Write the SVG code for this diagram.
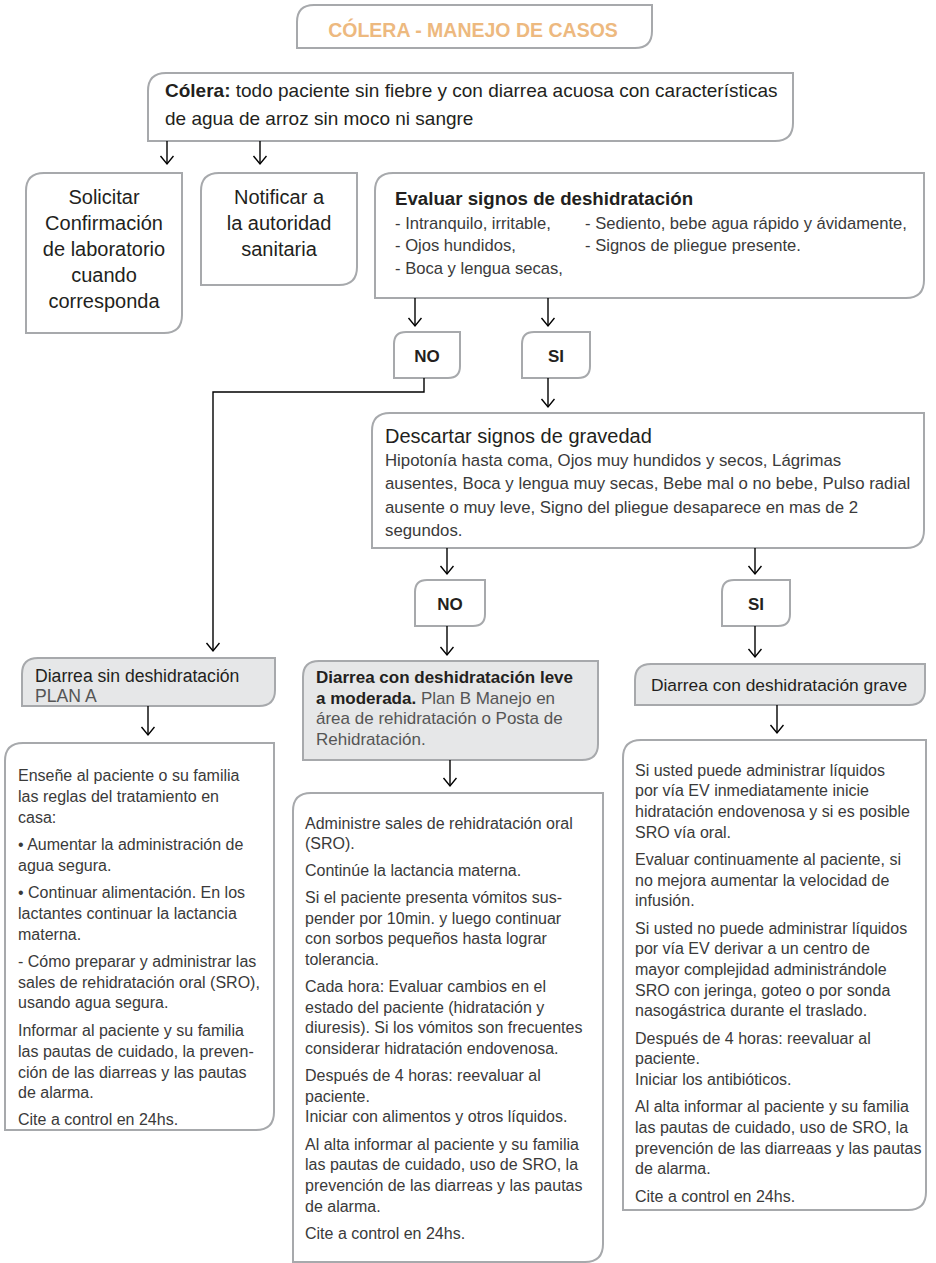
<svg xmlns="http://www.w3.org/2000/svg" width="936" height="1263" viewBox="0 0 936 1263">
<defs>
<style>
.box{fill:#fff;stroke:#a7a9ac;stroke-width:2}
.hdr{fill:#e6e7e8;stroke:#a7a9ac;stroke-width:2}
.t{font-family:"Liberation Sans",Arial,sans-serif;fill:#231f20}
.b{font-weight:bold}
.body{font-family:"Liberation Sans",Arial,sans-serif;font-size:16px;fill:#3a3a3a}
.c{text-anchor:middle}
.ln{fill:none;stroke:#000;stroke-width:1.4}
</style>
<marker id="ah" markerUnits="userSpaceOnUse" markerWidth="12" markerHeight="16" refX="9" refY="7" orient="auto" viewBox="0 0 12 16">
<path d="M1,0.5 L9,7 L1,13.5" fill="none" stroke="#000" stroke-width="1.4"/>
</marker>
</defs>
<rect width="936" height="1263" fill="#fff"/>

<g id="title">
<path class="box" d="M297,48 V22 Q297,5 314,5 H652 V31 Q652,48 635,48 Z"/>
<text class="t b c" x="473" y="37" font-size="19.5" style="fill:#edb97f">CÓLERA - MANEJO DE CASOS</text>
</g>

<g id="colera">
<path class="box" d="M148,141 V91 Q148,73 166,73 H793 V123 Q793,141 775,141 Z"/>
<text class="t" x="165" y="97" font-size="19"><tspan font-weight="bold">Cólera:</tspan> todo paciente sin fiebre y con diarrea acuosa con características</text>
<text class="t" x="165" y="125" font-size="19">de agua de arroz sin moco ni sangre</text>
</g>

<g id="solicitar">
<path class="box" d="M26,333 V191 Q26,173 44,173 H182 V315 Q182,333 164,333 Z"/>
<text class="t c" x="104" y="204" font-size="20">Solicitar</text>
<text class="t c" x="104" y="230" font-size="20">Confirmación</text>
<text class="t c" x="104" y="256" font-size="20">de laboratorio</text>
<text class="t c" x="104" y="282" font-size="20">cuando</text>
<text class="t c" x="104" y="308" font-size="20">corresponda</text>
</g>

<g id="notificar">
<path class="box" d="M201,285 V191 Q201,173 219,173 H357 V267 Q357,285 339,285 Z"/>
<text class="t c" x="279" y="204" font-size="20">Notificar a</text>
<text class="t c" x="279" y="230" font-size="20">la autoridad</text>
<text class="t c" x="279" y="256" font-size="20">sanitaria</text>
</g>

<g id="evaluar">
<path class="box" d="M375,298 V191 Q375,173 393,173 H924 V280 Q924,298 906,298 Z"/>
<text class="t b" x="395" y="205" font-size="18.7">Evaluar signos de deshidratación</text>
<text class="body" x="395" y="229" style="font-size:16.6px">- Intranquilo, irritable,</text>
<text class="body" x="395" y="251" style="font-size:16.6px">- Ojos hundidos,</text>
<text class="body" x="395" y="274" style="font-size:16.6px">- Boca y lengua secas,</text>
<text class="body" x="585" y="229" style="font-size:16.6px">- Sediento, bebe agua rápido y ávidamente,</text>
<text class="body" x="585" y="251" style="font-size:16.6px">- Signos de pliegue presente.</text>
</g>

<g id="no1">
<path class="box" d="M394,378 V344 Q394,332 406,332 H460 V366 Q460,378 448,378 Z"/>
<text class="t b c" x="427" y="362" font-size="17">NO</text>
</g>
<g id="si1">
<path class="box" d="M522,378 V344 Q522,332 534,332 H590 V366 Q590,378 578,378 Z"/>
<text class="t b c" x="556" y="362" font-size="17">SI</text>
</g>

<g id="descartar">
<path class="box" d="M372,548 V431 Q372,413 390,413 H924 V530 Q924,548 906,548 Z"/>
<text class="t" x="385" y="443" font-size="20">Descartar signos de gravedad</text>
<text class="body" x="385" y="466" style="font-size:16.8px">Hipotonía hasta coma, Ojos muy hundidos y secos, Lágrimas</text>
<text class="body" x="385" y="489" style="font-size:16.8px">ausentes, Boca y lengua muy secas, Bebe mal o no bebe, Pulso radial</text>
<text class="body" x="385" y="513" style="font-size:16.8px">ausente o muy leve, Signo del pliegue desaparece en mas de 2</text>
<text class="body" x="385" y="536" style="font-size:16.8px">segundos.</text>
</g>

<g id="no2">
<path class="box" d="M415,626 V592 Q415,580 427,580 H485 V614 Q485,626 473,626 Z"/>
<text class="t b c" x="450" y="610" font-size="17">NO</text>
</g>
<g id="si2">
<path class="box" d="M722,626 V592 Q722,580 734,580 H790 V614 Q790,626 778,626 Z"/>
<text class="t b c" x="756" y="610" font-size="17">SI</text>
</g>

<g id="h-sin">
<path class="hdr" d="M22,706 V674 Q22,658 38,658 H275 V690 Q275,706 259,706 Z"/>
<text class="t" x="35" y="682" font-size="17.6">Diarrea sin deshidratación</text>
<text class="t" x="35" y="702" font-size="17.6" style="fill:#555">PLAN A</text>
</g>

<g id="h-leve">
<path class="hdr" d="M303,760 V677 Q303,661 319,661 H598 V744 Q598,760 582,760 Z"/>
<text class="t b" x="316" y="683" font-size="17">Diarrea con deshidratación leve</text>
<text class="t" x="316" y="704" font-size="17"><tspan font-weight="bold">a moderada.</tspan><tspan style="fill:#555"> Plan B Manejo en</tspan></text>
<text class="t" x="316" y="724" font-size="17" style="fill:#555">área de rehidratación o Posta de</text>
<text class="t" x="316" y="745" font-size="17" style="fill:#555">Rehidratación.</text>
</g>

<g id="h-grave">
<path class="hdr" d="M635,705 V680 Q635,664 651,664 H925 V689 Q925,705 909,705 Z"/>
<text class="t c" x="779" y="691" font-size="17.4">Diarrea con deshidratación grave</text>
</g>

<g id="plan-a">
<path class="box" d="M5,1130 V761 Q5,743 23,743 H274 V1112 Q274,1130 256,1130 Z"/>
<text class="body">
<tspan x="18" y="781">Enseñe al paciente o su familia</tspan>
<tspan x="18" y="802">las reglas del tratamiento en</tspan>
<tspan x="18" y="823">casa:</tspan>
<tspan x="18" y="850">• Aumentar la administración de</tspan>
<tspan x="18" y="871">agua segura.</tspan>
<tspan x="18" y="898">• Continuar alimentación. En los</tspan>
<tspan x="18" y="919">lactantes continuar la lactancia</tspan>
<tspan x="18" y="940">materna.</tspan>
<tspan x="18" y="967">- Cómo preparar y administrar las</tspan>
<tspan x="18" y="988">sales de rehidratación oral (SRO),</tspan>
<tspan x="18" y="1008">usando agua segura.</tspan>
<tspan x="18" y="1036">Informar al paciente y su familia</tspan>
<tspan x="18" y="1057">las pautas de cuidado, la preven-</tspan>
<tspan x="18" y="1078">ción de las diarreas y las pautas</tspan>
<tspan x="18" y="1098">de alarma.</tspan>
<tspan x="18" y="1125">Cite a control en 24hs.</tspan>
</text>
</g>

<g id="plan-b">
<path class="box" d="M293,1262 V811 Q293,793 311,793 H603 V1244 Q603,1262 585,1262 Z"/>
<text class="body">
<tspan x="305" y="829">Administre sales de rehidratación oral</tspan>
<tspan x="305" y="849">(SRO).</tspan>
<tspan x="305" y="876">Continúe la lactancia materna.</tspan>
<tspan x="305" y="903">Si el paciente presenta vómitos sus-</tspan>
<tspan x="305" y="924">pender por 10min. y luego continuar</tspan>
<tspan x="305" y="944">con sorbos pequeños hasta lograr</tspan>
<tspan x="305" y="965">tolerancia.</tspan>
<tspan x="305" y="992">Cada hora: Evaluar cambios en el</tspan>
<tspan x="305" y="1013">estado del paciente (hidratación y</tspan>
<tspan x="305" y="1033">diuresis). Si los vómitos son frecuentes</tspan>
<tspan x="305" y="1054">considerar hidratación endovenosa.</tspan>
<tspan x="305" y="1081">Después de 4 horas: reevaluar al</tspan>
<tspan x="305" y="1102">paciente.</tspan>
<tspan x="305" y="1122">Iniciar con alimentos y otros líquidos.</tspan>
<tspan x="305" y="1150">Al alta informar al paciente y su familia</tspan>
<tspan x="305" y="1170">las pautas de cuidado, uso de SRO, la</tspan>
<tspan x="305" y="1191">prevención de las diarreas y las pautas</tspan>
<tspan x="305" y="1212">de alarma.</tspan>
<tspan x="305" y="1239">Cite a control en 24hs.</tspan>
</text>
</g>

<g id="plan-c">
<path class="box" d="M623,1210 V758 Q623,740 641,740 H926 V1192 Q926,1210 908,1210 Z"/>
<text class="body">
<tspan x="635" y="776">Si usted puede administrar líquidos</tspan>
<tspan x="635" y="796">por vía EV inmediatamente inicie</tspan>
<tspan x="635" y="817">hidratación endovenosa y si es posible</tspan>
<tspan x="635" y="838">SRO vía oral.</tspan>
<tspan x="635" y="865">Evaluar continuamente al paciente, si</tspan>
<tspan x="635" y="886">no mejora aumentar la velocidad de</tspan>
<tspan x="635" y="906">infusión.</tspan>
<tspan x="635" y="934">Si usted no puede administrar líquidos</tspan>
<tspan x="635" y="954">por vía EV derivar a un centro de</tspan>
<tspan x="635" y="975">mayor complejidad administrándole</tspan>
<tspan x="635" y="996">SRO con jeringa, goteo o por sonda</tspan>
<tspan x="635" y="1016">nasogástrica durante el traslado.</tspan>
<tspan x="635" y="1044">Después de 4 horas: reevaluar al</tspan>
<tspan x="635" y="1064">paciente.</tspan>
<tspan x="635" y="1085">Iniciar los antibióticos.</tspan>
<tspan x="635" y="1112">Al alta informar al paciente y su familia</tspan>
<tspan x="635" y="1133">las pautas de cuidado, uso de SRO, la</tspan>
<tspan x="635" y="1154">prevención de las diarreaas y las pautas</tspan>
<tspan x="635" y="1174">de alarma.</tspan>
<tspan x="635" y="1202">Cite a control en 24hs.</tspan>
</text>
</g>

<g id="connectors">
<line class="ln" x1="167" y1="141" x2="167" y2="164" marker-end="url(#ah)"/>
<line class="ln" x1="260" y1="141" x2="260" y2="164" marker-end="url(#ah)"/>
<line class="ln" x1="415" y1="298" x2="415" y2="326" marker-end="url(#ah)"/>
<line class="ln" x1="548" y1="298" x2="548" y2="326" marker-end="url(#ah)"/>
<polyline class="ln" points="424,378 424,392 213,392 213,651" marker-end="url(#ah)"/>
<line class="ln" x1="548" y1="378" x2="548" y2="407" marker-end="url(#ah)"/>
<line class="ln" x1="447" y1="548" x2="447" y2="574" marker-end="url(#ah)"/>
<line class="ln" x1="755" y1="548" x2="755" y2="574" marker-end="url(#ah)"/>
<line class="ln" x1="447" y1="626" x2="447" y2="655" marker-end="url(#ah)"/>
<line class="ln" x1="755" y1="626" x2="755" y2="657" marker-end="url(#ah)"/>
<line class="ln" x1="148" y1="706" x2="148" y2="735" marker-end="url(#ah)"/>
<line class="ln" x1="450" y1="760" x2="450" y2="786" marker-end="url(#ah)"/>
<line class="ln" x1="777" y1="705" x2="777" y2="733" marker-end="url(#ah)"/>
</g>
</svg>
